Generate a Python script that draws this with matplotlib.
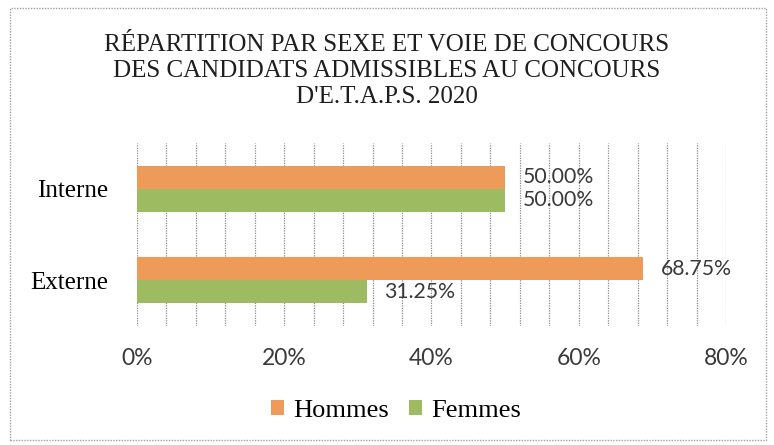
import matplotlib
matplotlib.use("Agg")
import matplotlib.pyplot as plt
from matplotlib.patches import Rectangle
from matplotlib.ticker import MultipleLocator, FuncFormatter

categories = ["Externe", "Interne"]
hommes = [68.75, 50.00]
femmes = [31.25, 50.00]
series_names = ["Hommes", "Femmes"]
title = "RÉPARTITION PAR SEXE ET VOIE DE CONCOURS\nDES CANDIDATS ADMISSIBLES AU CONCOURS\nD'E.T.A.P.S. 2020"

c_h = "#EE9A58"
c_f = "#9DBB60"

fig = plt.figure(figsize=(7.74, 4.45), dpi=100)
fig.patch.set_facecolor("white")
fig.patches.append(Rectangle((10/774, 1-440/445), 756/774, 432/445, transform=fig.transFigure,
                             fill=False, edgecolor="#A0A0A0", linewidth=1.0, linestyle=(0, (1, 1))))

ax = fig.add_axes([137/774, 1-326/445, 589/774, 183/445])
ypos = list(range(len(categories)))
h = 0.25
bh = ax.barh([y + h/2 for y in ypos], hommes, height=h, color=c_h, label=series_names[0], zorder=3)
bf = ax.barh([y - h/2 for y in ypos], femmes, height=h, color=c_f, label=series_names[1], zorder=3)

ax.set_xlim(0, 80)
ax.set_ylim(-0.5, 1.5)
ax.xaxis.set_major_locator(MultipleLocator(20))
ax.xaxis.set_minor_locator(MultipleLocator(4))
ax.xaxis.set_major_formatter(FuncFormatter(lambda v, p: f"{v:.0f}%"))
ax.grid(axis="x", which="both", color="#8A8A8A", linestyle=(0, (1, 1)), linewidth=0.9, zorder=0)
ax.set_yticks(ypos)
ax.set_yticklabels(categories, fontfamily="Liberation Serif", fontsize=18)
for s in ax.spines.values():
    s.set_visible(False)
ax.tick_params(axis="both", which="both", length=0)
ax.tick_params(axis="x", pad=16)
ax.tick_params(axis="y", pad=21)
for lab in ax.get_xticklabels():
    lab.set_fontfamily("Lato")
    lab.set_fontsize(16.5)
    lab.set_color("#3A3A3A")

for bars, vals in ((bh, hommes), (bf, femmes)):
    for b, v in zip(bars, vals):
        ax.annotate(f"{v:.2f}%", (v, b.get_y() + b.get_height()/2), xytext=(12.5, 0),
                    textcoords="offset points", va="center", ha="left",
                    fontfamily="Lato", fontsize=15.3, color="#3A3A3A")

fig.text(0.5, 1-71/445, title, ha="center", va="center", fontfamily="Liberation Serif",
         fontsize=18, linespacing=1.25, color="#1E1E1E")

leg = fig.legend(handles=[bh, bf], labels=series_names, loc="center", bbox_to_anchor=(396/774, 1-411/445),
                 ncol=2, frameon=False, prop={"family": "Liberation Serif", "size": 19},
                 handlelength=0.5, handleheight=0.5, handletextpad=0.35, columnspacing=0.75)

fig.savefig("out.png", dpi=100)
